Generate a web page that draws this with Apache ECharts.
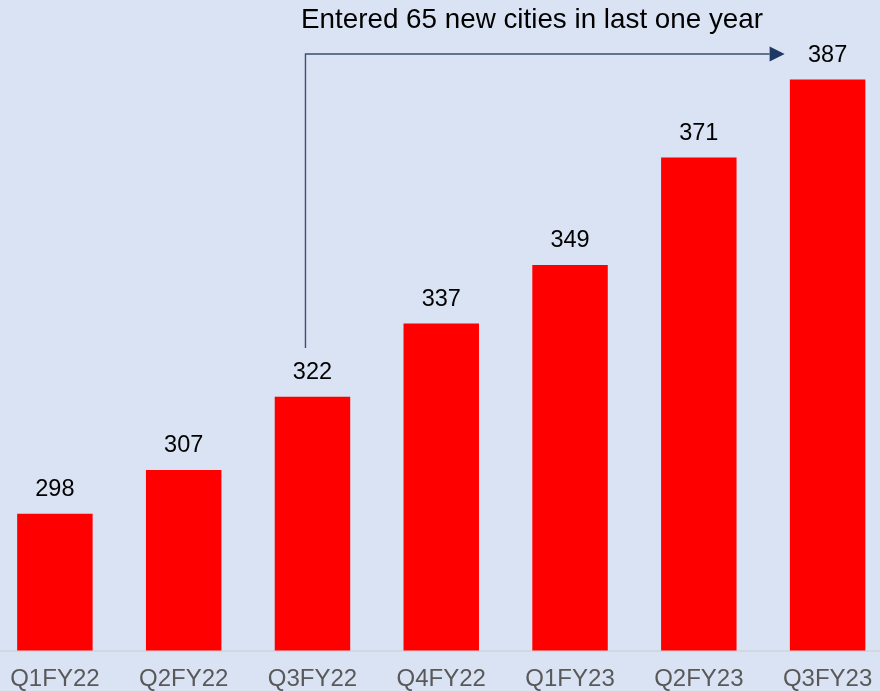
<!DOCTYPE html>
<html>
<head>
<meta charset="utf-8">
<script src="https://cdn.jsdelivr.net/npm/echarts@6/dist/echarts.min.js"></script>
<style>
  html, body { margin: 0; padding: 0; background: #dae3f3; }
  #chart { width: 880px; height: 691px; }
</style>
</head>
<body>
<div id="chart"></div>
<script>
const quarters = ["Q1FY22", "Q2FY22", "Q3FY22", "Q4FY22", "Q1FY23", "Q2FY23", "Q3FY23"];
const cities = [298, 307, 322, 337, 349, 371, 387];
const annotationText = "Entered 65 new cities in last one year";

const chart = echarts.init(document.getElementById("chart"));

chart.setOption({
  backgroundColor: "#dae3f3",
  animation: false,
  grid: {
    left: -9.5,
    right: -12,
    top: 16,
    bottom: 40.5,
    containLabel: false,
    outerBoundsMode: "none"
  },
  xAxis: {
    type: "category",
    data: quarters,
    axisTick: { show: false },
    axisLine: { lineStyle: { color: "#d0d3d8", width: 1.5 } },
    axisLabel: {
      color: "#595959",
      fontFamily: "Liberation Sans, Arial, sans-serif",
      fontSize: 24,
      margin: 17
    }
  },
  yAxis: {
    type: "value",
    min: 270,
    max: 400,
    show: false,
    splitLine: { show: false }
  },
  series: [
    {
      type: "bar",
      data: cities,
      barWidth: "58.6%",
      itemStyle: { color: "#ff0000" },
      label: {
        show: true,
        position: "top",
        distance: 12,
        color: "#000000",
        fontFamily: "Liberation Sans, Arial, sans-serif",
        fontSize: 23.5
      }
    }
  ]
});

// annotation arrow anchored to the chart's own scales
function drawAnnotation() {
  const startPt = chart.convertToPixel({ seriesIndex: 0 }, ["Q3FY22", 332]);
  const cornerPt = chart.convertToPixel({ seriesIndex: 0 }, ["Q3FY22", 392.2]);
  const endPt = chart.convertToPixel({ seriesIndex: 0 }, ["Q3FY23", 392.2]);
  const x0 = startPt[0] - 7;
  const yTop = cornerPt[1];
  const xTip = endPt[0] - 43;
  const head = 15;

  chart.setOption({
    graphic: [
      {
        type: "polyline",
        shape: { points: [[x0, startPt[1]], [x0, yTop], [xTip - head, yTop]] },
        style: { stroke: "#3b4e74", lineWidth: 1.4, fill: null }
      },
      {
        type: "polygon",
        shape: { points: [[xTip - head, yTop - 7.5], [xTip, yTop], [xTip - head, yTop + 7.5]] },
        style: { fill: "#1f3864" }
      },
      {
        type: "text",
        x: 532,
        y: 20.5,
        style: {
          text: annotationText,
          fill: "#000000",
          font: "27.8px 'Liberation Sans', Arial, sans-serif",
          align: "center",
          verticalAlign: "middle"
        }
      }
    ]
  });
}
drawAnnotation();
</script>
</body>
</html>
